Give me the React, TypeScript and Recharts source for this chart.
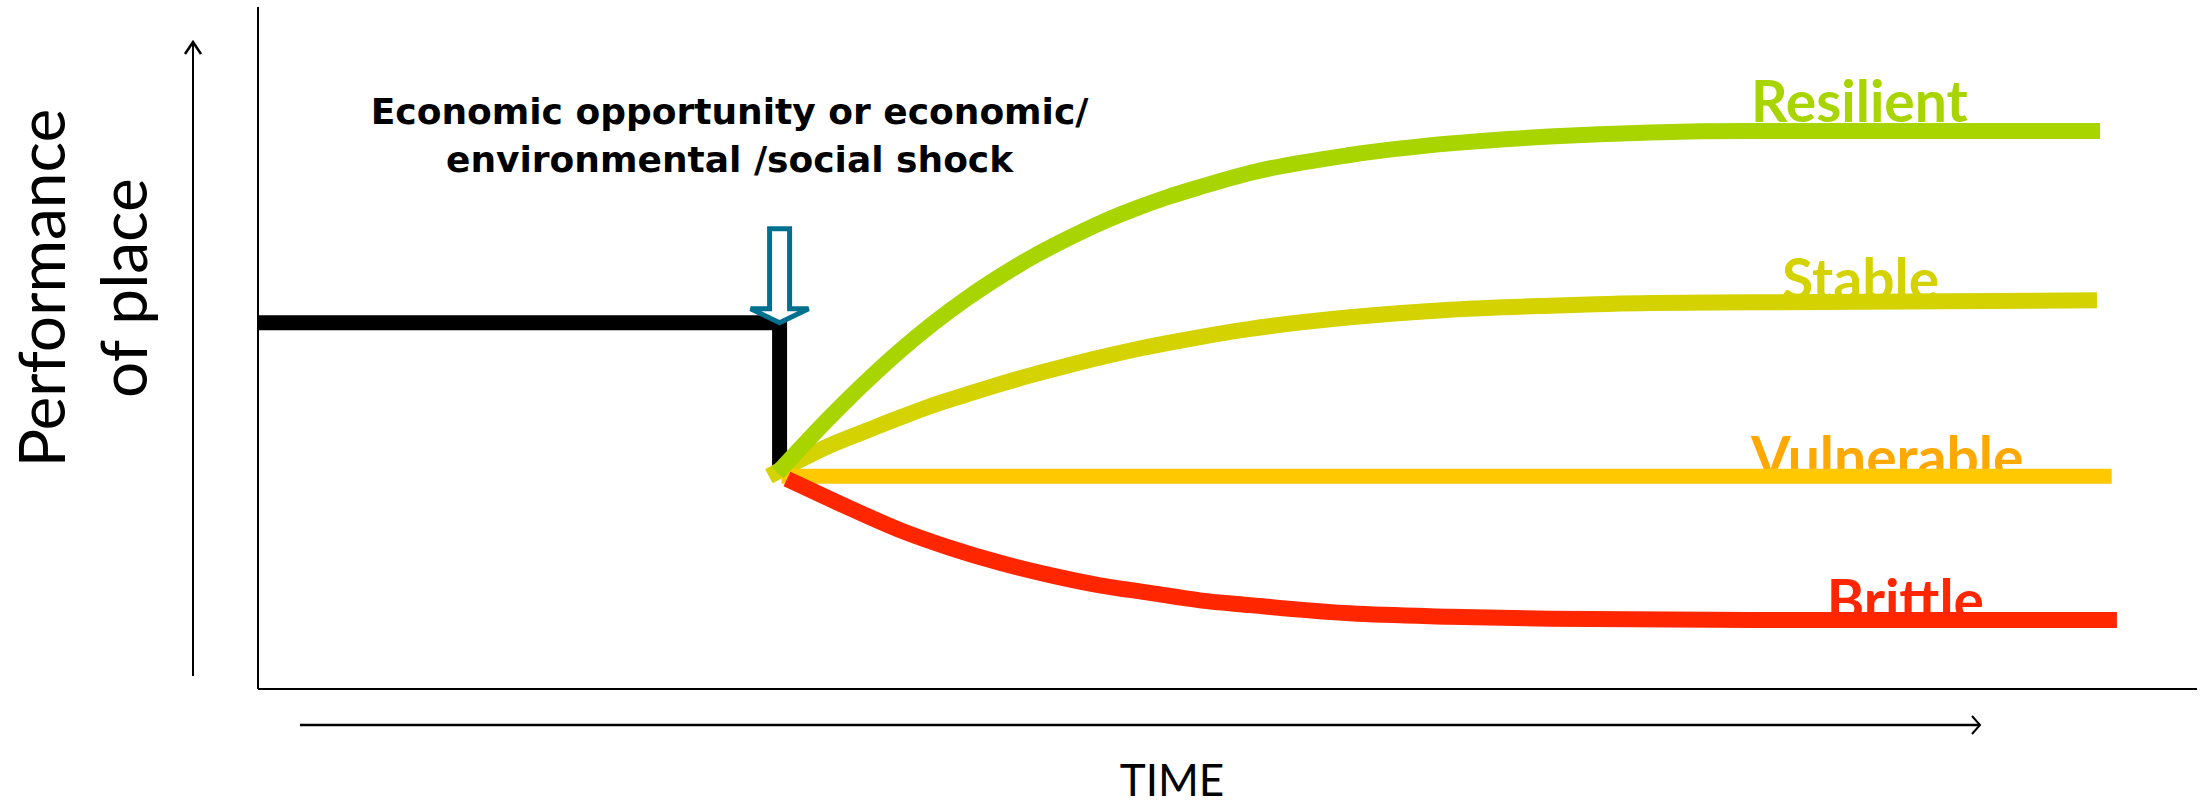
import React from 'react';
import { LineChart, Line, XAxis, YAxis, ReferenceDot } from 'recharts';

// ---- data (time index 0..100, performance index 0..100) ----
const timeDomain = [0, 100];
const perfDomain = [0, 100];

const shockT = 26.9;
const preShockT = [0, 26.9, 26.9];
const preShockV = [53.7, 53.7, 32.4];

const resilientT = [26.8, 29.65, 31.41, 33.11, 34.81, 36.57, 38.27, 39.97, 41.72, 43.42, 45.13, 46.88, 48.58, 51.2, 56.3, 61.5, 66.6, 71.8, 77, 95];
const resilientV = [31.7, 40.3, 45.2, 49.6, 53.6, 57.3, 60.5, 63.4, 66.0, 68.3, 70.3, 72.1, 73.6, 75.7, 78.3, 80.0, 81.0, 81.6, 81.8, 81.8];

const stableT = [26.35, 29.65, 31.41, 33.11, 34.81, 36.57, 38.27, 39.97, 41.72, 43.42, 45.13, 46.88, 48.58, 51.16, 56.32, 61.47, 66.63, 71.79, 76.95, 94.84];
const stableV = [31.2, 35.9, 37.9, 39.8, 41.6, 43.2, 44.7, 46.1, 47.4, 48.6, 49.7, 50.7, 51.6, 52.8, 54.5, 55.6, 56.2, 56.6, 56.7, 57.0];

const vulnerableT = [27, 95.6];
const vulnerableV = [31.2, 31.2];

const brittleT = [27.28, 27.95, 30.53, 33.11, 35.69, 38.27, 40.85, 43.42, 46.0, 48.58, 51.16, 56.32, 61.47, 66.63, 76.95, 95.87];
const brittleV = [30.8, 29.9, 26.5, 23.3, 20.7, 18.5, 16.7, 15.2, 14.1, 13.0, 12.3, 11.1, 10.6, 10.3, 10.1, 10.1];

const seriesNames = ['Resilient', 'Stable', 'Vulnerable', 'Brittle'];
const labelT = [77, 78.6, 77, 80.9];
const labelV = [83.1, 57.0, 30.9, 10.0];

const titleLines = ['Economic opportunity or economic/', 'environmental /social shock'];
const yTitleLines = ['Performance', 'of place'];
const xTitle = 'TIME';

// ---- styles ----
const lineColors = ['#A8D400', '#D4D200', '#FFC800', '#FF2600'];
const labelColors = ['#A8D400', '#D4D200', '#FFA800', '#FF2600'];

const toPoints = (T: number[], V: number[]) => T.map((t, i) => ({ t, v: V[i] }));

const preShock = toPoints(preShockT, preShockV);
const resilient = toPoints(resilientT, resilientV);
const stable = toPoints(stableT, stableV);
const vulnerable = toPoints(vulnerableT, vulnerableV);
const brittle = toPoints(brittleT, brittleV);

const YAxisDecor = (props: any) => {
  const vb = props.viewBox || { x: 257, y: 7, width: 1, height: 682 };
  const edge = vb.x + (vb.width || 0);
  const ax = edge - 65;
  const top = vb.y + 35;
  const bottom = vb.y + vb.height - 13;
  const cy = vb.y + 281;
  return (
    <g>
      <line x1={ax} y1={bottom} x2={ax} y2={top} stroke="#000" strokeWidth={2} />
      <polyline points={`${ax - 8},${top + 12} ${ax},${top} ${ax + 8},${top + 12}`} fill="none" stroke="#000" strokeWidth={2.5} />
      <text transform={`translate(${edge - 193},${cy}) rotate(-90)`} textAnchor="middle" fontFamily="Lato" fontSize={64} fill="#000">{yTitleLines[0]}</text>
      <text transform={`translate(${edge - 111},${cy}) rotate(-90)`} textAnchor="middle" fontFamily="Lato" fontSize={64} fill="#000">{yTitleLines[1]}</text>
    </g>
  );
};

const XAxisDecor = (props: any) => {
  const vb = props.viewBox || { x: 258, y: 689, width: 1939, height: 1 };
  const y = vb.y + 36;
  const x1 = vb.x + 42;
  const x2 = vb.x + 1722;
  return (
    <g>
      <line x1={x1} y1={y} x2={x2} y2={y} stroke="#000" strokeWidth={2.5} />
      <polyline points={`${x2 - 8},${y - 9} ${x2},${y} ${x2 - 8},${y + 9}`} fill="none" stroke="#000" strokeWidth={2} />
      <text x={vb.x + 914} y={vb.y + 107} textAnchor="middle" fontFamily="Lato" fontSize={44} fill="#000">{xTitle}</text>
    </g>
  );
};

const ShockArrow = (props: any) => {
  const { cx, cy } = props;
  if (cx == null || cy == null) return null;
  const d = `M ${cx - 10} ${cy - 94} L ${cx + 10} ${cy - 94} L ${cx + 10} ${cy - 14} L ${cx + 29} ${cy - 14} L ${cx} ${cy} L ${cx - 29} ${cy - 14} L ${cx - 10} ${cy - 14} Z`;
  return (
    <g>
      <path d={d} fill="#fff" stroke="#00708F" strokeWidth={5} strokeLinejoin="miter" />
      <text x={cx - 50} y={cy - 199} textAnchor="middle" fontFamily="DejaVu Sans" fontWeight="bold" fontSize={36} fill="#000">{titleLines[0]}</text>
      <text x={cx - 50} y={cy - 151} textAnchor="middle" fontFamily="DejaVu Sans" fontWeight="bold" fontSize={36} fill="#000">{titleLines[1]}</text>
    </g>
  );
};

const makeLabelShape = (i: number) => (props: any) => {
  const { cx, cy } = props;
  if (cx == null || cy == null) return null;
  return (
    <text x={cx} y={cy} textAnchor="start" fontFamily="Lato" fontWeight="bold" fontSize={57} fill={labelColors[i]}>
      {seriesNames[i]}
    </text>
  );
};

export default function App() {
  return (
    <div style={{ position: 'absolute', left: 0, top: 0, width: 2208, height: 807, background: '#fff' }}>
      <LineChart width={2208} height={807} margin={{ top: 7, right: 11, bottom: 117, left: 257 }}>
        <XAxis
          type="number"
          dataKey="t"
          domain={timeDomain}
          allowDataOverflow
          tick={false}
          tickLine={false}
          height={1}
          axisLine={{ stroke: '#000', strokeWidth: 2 }}
          label={{ content: (p: any) => <XAxisDecor {...p} /> }}
        />
        <YAxis
          type="number"
          dataKey="v"
          domain={perfDomain}
          allowDataOverflow
          tick={false}
          tickLine={false}
          width={1}
          axisLine={{ stroke: '#000', strokeWidth: 2 }}
          label={{ content: (p: any) => <YAxisDecor {...p} /> }}
        />
        {seriesNames.map((name, i) => (
          <ReferenceDot
            key={name}
            x={labelT[i]}
            y={labelV[i]}
            r={0}
            ifOverflow="visible"
            zIndex={350}
            shape={makeLabelShape(i)}
          />
        ))}
        <Line data={preShock} dataKey="v" type="linear" stroke="#000" strokeWidth={15} strokeLinecap="butt" strokeLinejoin="miter" dot={false} activeDot={false} isAnimationActive={false} />
        <Line data={stable} dataKey="v" type="monotone" stroke={lineColors[1]} strokeWidth={16} strokeLinecap="butt" dot={false} activeDot={false} isAnimationActive={false} />
        <Line data={vulnerable} dataKey="v" type="linear" stroke={lineColors[2]} strokeWidth={15} strokeLinecap="butt" dot={false} activeDot={false} isAnimationActive={false} />
        <Line data={resilient} dataKey="v" type="monotone" stroke={lineColors[0]} strokeWidth={16} strokeLinecap="butt" dot={false} activeDot={false} isAnimationActive={false} />
        <Line data={brittle} dataKey="v" type="monotone" stroke={lineColors[3]} strokeWidth={16} strokeLinecap="butt" dot={false} activeDot={false} isAnimationActive={false} />
        <ReferenceDot x={shockT} y={preShockV[0]} r={0} ifOverflow="visible" zIndex={1500} shape={(p: any) => <ShockArrow {...p} />} />
      </LineChart>
    </div>
  );
}
